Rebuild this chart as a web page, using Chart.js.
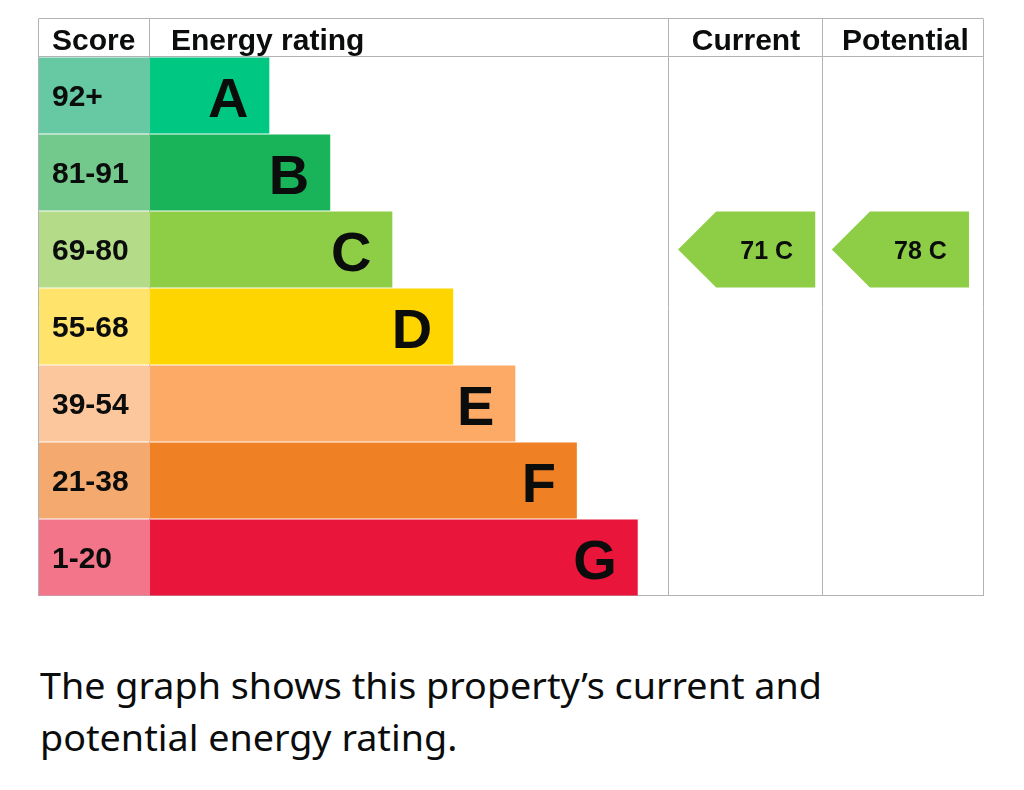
<!DOCTYPE html>
<html>
<head>
<meta charset="utf-8">
<script src="https://cdn.jsdelivr.net/npm/chart.js@4.4.0/dist/chart.umd.min.js"></script>
<style>
  html, body { margin: 0; padding: 0; background: #ffffff; }
  #wrap { position: relative; width: 1024px; height: 620px; }
  #caption {
    margin: 40px 0 0 40px;
    font-family: "Noto Sans", sans-serif;
    font-size: 36px;
    line-height: 52px;
    color: #0b0c0c;
    white-space: nowrap;
  }
  #caption span { display: inline-block; transform-origin: left top; }
</style>
</head>
<body>
<div id="wrap"><canvas id="c"></canvas></div>
<div id="caption"><span id="l1">The graph shows this property’s current and</span><br><span id="l2">potential energy rating.</span></div>
<script>
// ---- data ----
const ratings = ['A', 'B', 'C', 'D', 'E', 'F', 'G'];
const scoreRanges = ['92+', '81-91', '69-80', '55-68', '39-54', '21-38', '1-20'];
const bandMins = [92, 81, 69, 55, 39, 21, 1];
const bandLengths = [19.4, 29.3, 39.4, 49.3, 59.4, 69.4, 79.3];
const headers = ['Score', 'Energy rating', 'Current', 'Potential'];
const currentScore = 71;
const potentialScore = 78;

// ---- styles / layout ----
const bandColors = ['#00c781', '#19b459', '#8dce46', '#ffd500', '#fcaa65', '#ef8023', '#e9153b'];
const scoreColors = ['#66c9a3', '#72c98b', '#b4dc88', '#ffe36b', '#fdc79e', '#f4aa6e', '#f3758a'];
const SCORE_START = -18.05, RATING_END = 84.4, CURRENT_END = 109.4, POTENTIAL_END = 135.6;
const ARROW_INSET = 1.46, ARROW_LEN = 22.3;
const LINE = '#b1b4b6', INK = '#0b0c0c';
const BOLD = '"Liberation Sans", Arial, sans-serif';

function bandIndex(score) {
  for (let i = 0; i < bandMins.length; i++) if (score >= bandMins[i]) return i;
  return bandMins.length - 1;
}
const curIdx = bandIndex(currentScore);
const potIdx = bandIndex(potentialScore);

const scoreCells = ratings.map(() => [SCORE_START, 0]);
const bandBars = bandLengths.map(v => [0, v]);
const currentArrow = ratings.map((r, i) => i === curIdx ? [RATING_END + ARROW_INSET, RATING_END + ARROW_INSET + ARROW_LEN] : null);
const potentialArrow = ratings.map((r, i) => i === potIdx ? [CURRENT_END + ARROW_INSET, CURRENT_END + ARROW_INSET + ARROW_LEN] : null);

const epcPlugin = {
  id: 'epc',
  beforeDatasetsDraw(chart) {
    const { ctx, chartArea: a, scales: { x } } = chart;
    const top = a.top - 38;
    ctx.save();
    ctx.strokeStyle = LINE;
    ctx.lineWidth = 1;
    const vx = [SCORE_START, 0, RATING_END, CURRENT_END, POTENTIAL_END].map(v => Math.round(x.getPixelForValue(v)) - 0.5);
    vx.forEach(px => { ctx.beginPath(); ctx.moveTo(px, top); ctx.lineTo(px, a.bottom); ctx.stroke(); });
    [top, a.top, a.bottom].forEach(py => {
      const y = Math.round(py) - 0.5;
      ctx.beginPath(); ctx.moveTo(vx[0], y); ctx.lineTo(vx[4], y); ctx.stroke();
    });
    // headers
    ctx.fillStyle = INK;
    ctx.font = 'bold 30px ' + BOLD;
    ctx.textBaseline = 'alphabetic';
    const hy = top + 31;
    ctx.textAlign = 'left';
    ctx.fillText(headers[0], x.getPixelForValue(SCORE_START) + 13, hy);
    ctx.fillText(headers[1], x.getPixelForValue(0) + 21, hy);
    ctx.textAlign = 'center';
    ctx.fillText(headers[2], (x.getPixelForValue(RATING_END) + x.getPixelForValue(CURRENT_END)) / 2, hy);
    ctx.fillText(headers[3], (x.getPixelForValue(CURRENT_END) + x.getPixelForValue(POTENTIAL_END)) / 2 + 2, hy);
    ctx.restore();
  },
  afterDatasetsDraw(chart) {
    const { ctx } = chart;
    ctx.save();
    ctx.fillStyle = INK;
    // score labels
    chart.getDatasetMeta(0).data.forEach((el, i) => {
      const p = el.getProps(['x', 'y', 'base'], true);
      ctx.font = 'bold 30px ' + BOLD;
      ctx.textAlign = 'left';
      ctx.textBaseline = 'alphabetic';
      ctx.fillText(scoreRanges[i], Math.min(p.x, p.base) + 13, p.y + 10);
    });
    // band letters
    chart.getDatasetMeta(1).data.forEach((el, i) => {
      const p = el.getProps(['x', 'y'], true);
      ctx.font = 'bold 56px ' + BOLD;
      ctx.textAlign = 'right';
      ctx.textBaseline = 'alphabetic';
      ctx.fillText(ratings[i], p.x - 21, p.y + 21);
    });
    // arrows
    [[2, currentScore], [3, potentialScore]].forEach(([di, score]) => {
      const meta = chart.getDatasetMeta(di);
      const ds = chart.data.datasets[di];
      meta.data.forEach((el, i) => {
        if (ds.data[i] == null) return;
        const p = el.getProps(['x', 'y', 'base', 'height'], true);
        const left = Math.min(p.x, p.base), right = Math.max(p.x, p.base);
        const h = p.height, t = p.y - h / 2, b = p.y + h / 2;
        ctx.beginPath();
        ctx.moveTo(left, p.y);
        ctx.lineTo(left + h / 2, t);
        ctx.lineTo(right, t);
        ctx.lineTo(right, b);
        ctx.lineTo(left + h / 2, b);
        ctx.closePath();
        ctx.fillStyle = bandColors[i];
        ctx.fill();
        ctx.fillStyle = INK;
        ctx.font = 'bold 25px ' + BOLD;
        ctx.textAlign = 'center';
        ctx.textBaseline = 'alphabetic';
        ctx.fillText(score + ' ' + ratings[i], (left + h / 2 + right) / 2 + 1, p.y + 9);
      });
    });
    ctx.restore();
  }
};

new Chart(document.getElementById('c'), {
  type: 'bar',
  data: {
    labels: ratings,
    datasets: [
      { data: scoreCells, backgroundColor: scoreColors, grouped: false },
      { data: bandBars, backgroundColor: bandColors, grouped: false },
      { data: currentArrow, backgroundColor: 'rgba(0,0,0,0)', grouped: false },
      { data: potentialArrow, backgroundColor: 'rgba(0,0,0,0)', grouped: false }
    ]
  },
  options: {
    indexAxis: 'y',
    responsive: true,
    maintainAspectRatio: false,
    animation: false,
    devicePixelRatio: 1,
    layout: { padding: { left: 39, right: 40, top: 57, bottom: 24 } },
    datasets: { bar: { barPercentage: 0.99, categoryPercentage: 1, borderWidth: 0, borderSkipped: false } },
    scales: {
      x: { type: 'linear', min: SCORE_START, max: POTENTIAL_END, display: false },
      y: { type: 'category', display: false, offset: true }
    },
    plugins: { legend: { display: false }, tooltip: { enabled: false }, title: { display: false } },
    events: []
  },
  plugins: [epcPlugin]
});

// fit caption width to the reference's condensed face
(function () {
  const l1 = document.getElementById('l1'), l2 = document.getElementById('l2');
  function fit() {
    const w = l1.getBoundingClientRect().width / (l1._s || 1);
    const s = 782 / w;
    l1._s = s;
    l1.style.transform = 'scaleX(' + s.toFixed(4) + ')';
    l2.style.transform = 'scaleX(' + s.toFixed(4) + ')';
  }
  fit();
  if (document.fonts && document.fonts.ready) document.fonts.ready.then(() => { l1.style.transform = ''; l1._s = 1; fit(); });
})();
</script>
</body>
</html>
